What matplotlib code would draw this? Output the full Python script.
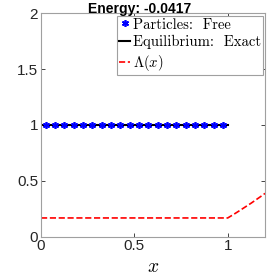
import numpy as np
import matplotlib
matplotlib.use("Agg")
import matplotlib.pyplot as plt

plt.rcParams['mathtext.fontset'] = 'cm'
plt.rcParams['font.family'] = ['Liberation Sans', 'DejaVu Sans']

# particle positions (20 particles, all at height 1)
particle_x = [0.025, 0.075, 0.125, 0.175, 0.225, 0.275, 0.325, 0.375, 0.425, 0.475,
              0.525, 0.575, 0.625, 0.675, 0.725, 0.775, 0.825, 0.875, 0.925, 0.975]
particle_y = [1.0] * 20

# exact equilibrium density
eq_x = [0.0, 1.0]
eq_y = [1.0, 1.0]

# Lambda(x)
lam_x = [0.0, 1.0, 1.025, 1.05, 1.075, 1.1, 1.125, 1.15, 1.175, 1.2]
lam_y = [0.167, 0.167, 0.192, 0.218, 0.245, 0.272, 0.299, 0.328, 0.357, 0.387]

energy = -0.0417

fig = plt.figure(figsize=(2.79, 2.79), dpi=100)
ax = fig.add_axes([0.147, 0.152, 0.803, 0.800])

ax.plot(eq_x, eq_y, color='k', lw=1.5, label='Equilibrium:  Exact', zorder=2)
ax.plot(particle_x, particle_y, ls='none', marker=(6, 2, 0), color='b', ms=5, mew=1.2,
        label='Particles:  Free', zorder=3)
ax.plot(lam_x, lam_y, color='r', ls='--', lw=1.2, label=r'$\Lambda(x)$')

ax.set_xlim(0, 1.2)
ax.set_ylim(0, 2)
ax.set_xticks([0, 0.5, 1])
ax.set_xticklabels(['0', '0.5', '1'])
ax.set_yticks([0, 0.5, 1, 1.5, 2])
ax.set_yticklabels(['0', '0.5', '1', '1.5', '2'])
ax.tick_params(direction='in', top=True, right=True, length=3, width=0.6,
               colors='#262626', labelsize=11, pad=2)
for s in ax.spines.values():
    s.set_color('#a0a0a0')
    s.set_linewidth(0.8)

ax.set_xlabel(r'$x$', fontsize=14, labelpad=4)
fig.text(0.5, 0.952, 'Energy: %.4f' % energy, fontsize=10, fontweight='bold',
         ha='center', va='baseline')

h, l = ax.get_legend_handles_labels()
order = [1, 0, 2]
leg = ax.legend([h[i] for i in order], [l[i] for i in order], loc='upper right',
                prop={'family': 'cmr10', 'size': 10.6}, handlelength=0.75,
                handletextpad=0.15, borderpad=0.15, labelspacing=0.25,
                borderaxespad=0.15, fancybox=False, framealpha=1)
leg.get_frame().set_edgecolor('#a0a0a0')
leg.get_frame().set_linewidth(0.8)

fig.savefig('out.png', dpi=100)
